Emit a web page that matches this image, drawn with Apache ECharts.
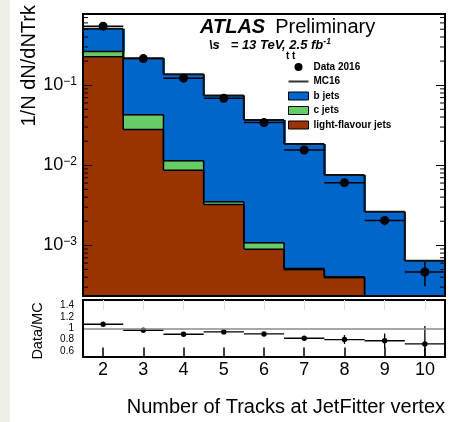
<!DOCTYPE html>
<html><head><meta charset="utf-8">
<script src="https://cdn.jsdelivr.net/npm/echarts@6/dist/echarts.min.js"></script>
<style>html,body{margin:0;padding:0;background:#fff}#c{width:452px;height:422px}</style>
</head><body><div id="c"></div>
<script>
// ---- data ----
const categories = ['2', '3', '4', '5', '6', '7', '8', '9', '10'];
const lightJets = [0.226, 0.0279, 0.00866, 0.00324, 0.000891, 0.000495, 0.000394, 0.00016, 0.00009];
const cJets = [0.037, 0.0150, 0.00276, 0.00027, 0.000187, 0.00002, 0.000012, 0.000004, 0.000002];
const bJets = [0.243, 0.1746, 0.1256, 0.0706, 0.0357, 0.0179, 0.00716, 0.00247, 0.00055];
const data2016 = [0.546, 0.215, 0.1224, 0.0688, 0.0341, 0.0155, 0.00606, 0.00205, 0.000464];
const data2016Err = [0.004, 0.0025, 0.0018, 0.0012, 0.0008, 0.0005, 0.0003, 0.00027, 0.000155];
const ratioVals = [1.071, 0.965, 0.894, 0.935, 0.899, 0.823, 0.80, 0.779, 0.722];
const ratioErr = [0.01, 0.01, 0.01, 0.012, 0.015, 0.025, 0.08, 0.127, 0.32];
const yMinorTicks = [3e-4, 4e-4, 5e-4, 6e-4, 7e-4, 8e-4, 9e-4,
  2e-3, 3e-3, 4e-3, 5e-3, 6e-3, 7e-3, 8e-3, 9e-3,
  2e-2, 3e-2, 4e-2, 5e-2, 6e-2, 7e-2, 8e-2, 9e-2,
  0.2, 0.3, 0.4, 0.5, 0.6, 0.7];
const ratioTickLabels = [0.6, 0.8, 1, 1.2, 1.4];

const Y_MIN = 2.33e-4, Y_MAX = 0.775;
const R_MIN = 0.5, R_MAX = 1.5;
const FONT = '"Liberation Sans", Arial, Helvetica, sans-serif';
const C_B = '#0066cc', C_C = '#66cc66', C_L = '#993300';

// cumulative stacks
const cumL = lightJets.slice();
const cumC = lightJets.map((v, i) => v + cJets[i]);
const cumB = cumC.map((v, i) => v + bJets[i]);

function bandW(api, v) { return api.coord([1, v])[0] - api.coord([0, v])[0]; }

function fillSeries(name, color, lower, upper, outline) {
  return {
    name, type: 'custom', xAxisIndex: 0, yAxisIndex: 0, z: 2,
    itemStyle: { color, borderColor: '#000', borderWidth: 1 },
    data: categories.map((c, i) => [i, lower ? lower[i] : Y_MIN, upper[i]]),
    encode: { x: 0, y: 2 },
    renderItem: function (params, api) {
      const i = api.value(0);
      const lo = Math.max(api.value(1), Y_MIN);
      const hi = Math.max(api.value(2), Y_MIN);
      const pHi = api.coord([i, hi]);
      const pLo = api.coord([i, lo]);
      const w = bandW(api, hi);
      const x0 = pHi[0] - w / 2, x1 = pHi[0] + w / 2;
      const ch = [{ type: 'rect', z2: 0, shape: { x: Math.floor(x0), y: pHi[1], width: Math.ceil(x1) - Math.floor(x0) + 1, height: pLo[1] - pHi[1] + 0.5 }, style: { fill: color } }];
      if (outline) {
        ch.push({ type: 'line', z2: 10, shape: { x1: x0, y1: pHi[1], x2: x1, y2: pHi[1] }, style: { stroke: '#000', lineWidth: 1.5 } });
        if (i < upper.length - 1) {
          const pN = api.coord([i + 1, Math.max(upper[i + 1], Y_MIN)]);
          ch.push({ type: 'line', z2: 10, shape: { x1: x1, y1: pHi[1], x2: x1, y2: pN[1] }, style: { stroke: '#000', lineWidth: 1.5 } });
        }
      }
      return { type: 'group', children: ch };
    }
  };
}

const series = [
  fillSeries('light-flavour jets', C_L, null, cumL, true),
  fillSeries('c jets', C_C, cumL, cumC, true),
  fillSeries('b jets', C_B, cumC, cumB, false),
  {
    name: 'MC16', type: 'custom', xAxisIndex: 0, yAxisIndex: 0, z: 2,
    itemStyle: { color: '#222' },
    data: categories.map((c, i) => [i, cumB[i]]),
    encode: { x: 0, y: 1 },
    renderItem: function (params, api) {
      const i = api.value(0);
      const v = Math.max(api.value(1), Y_MIN);
      const p = api.coord([i, v]);
      const w = bandW(api, v);
      const x0 = p[0] - w / 2, x1 = p[0] + w / 2;
      const ch = [{ type: 'line', z2: 12, shape: { x1: x0, y1: p[1], x2: x1, y2: p[1] }, style: { stroke: '#111', lineWidth: 2 } }];
      if (i < cumB.length - 1) {
        const pN = api.coord([i + 1, Math.max(cumB[i + 1], Y_MIN)]);
        ch.push({ type: 'line', z2: 12, shape: { x1: x1, y1: p[1], x2: x1, y2: pN[1] }, style: { stroke: '#111', lineWidth: 2 } });
      }
      return { type: 'group', children: ch };
    }
  },
  {
    name: 'Data 2016', type: 'custom', xAxisIndex: 0, yAxisIndex: 0, z: 3,
    itemStyle: { color: '#000' },
    data: categories.map((c, i) => [i, data2016[i], data2016Err[i]]),
    encode: { x: 0, y: 1 },
    renderItem: function (params, api) {
      const i = api.value(0), v = api.value(1), e = api.value(2);
      const p = api.coord([i, v]);
      const w = bandW(api, v);
      const pU = api.coord([i, Math.min(v + e, Y_MAX)]);
      const pD = api.coord([i, Math.max(v - e, Y_MIN)]);
      return { type: 'group', children: [
        { type: 'line', shape: { x1: p[0] - w / 2, y1: p[1], x2: p[0] + w / 2, y2: p[1] }, style: { stroke: '#000', lineWidth: 1.5 } },
        { type: 'line', shape: { x1: p[0], y1: pU[1], x2: p[0], y2: pD[1] }, style: { stroke: '#000', lineWidth: 1.5 } },
        { type: 'circle', shape: { cx: p[0], cy: p[1], r: 4.5 }, style: { fill: '#000' } }
      ] };
    }
  },
  {
    name: 'minorTicks', type: 'custom', xAxisIndex: 0, yAxisIndex: 0, z: 4, silent: true,
    data: yMinorTicks.map(v => [0, v]),
    encode: { x: 0, y: 1 },
    renderItem: function (params, api) {
      const v = api.value(1);
      const pl = api.coord([0, v]);
      const w = bandW(api, v);
      const pr = api.coord([categories.length - 1, v]);
      const xl = pl[0] - w / 2, xr = pr[0] + w / 2;
      return { type: 'group', children: [
        { type: 'line', shape: { x1: xl, y1: pl[1], x2: xl + 5, y2: pl[1] }, style: { stroke: '#000', lineWidth: 1 } },
        { type: 'line', shape: { x1: xr - 5, y1: pl[1], x2: xr, y2: pl[1] }, style: { stroke: '#000', lineWidth: 1 } }
      ] };
    }
  },
  {
    name: 'ratio', type: 'custom', xAxisIndex: 2, yAxisIndex: 2, z: 3,
    data: categories.map((c, i) => [i, ratioVals[i], ratioErr[i]]),
    encode: { x: 0, y: 1 },
    markLine: {
      silent: true, symbol: 'none', animation: false,
      label: { show: false },
      lineStyle: { color: '#8a8a8a', width: 1.5, type: 'solid' },
      data: [{ yAxis: 1 }]
    },
    renderItem: function (params, api) {
      const i = api.value(0), v = api.value(1), e = api.value(2);
      const p = api.coord([i, v]);
      const w = api.coord([1, v])[0] - api.coord([0, v])[0];
      const pU = api.coord([i, Math.min(v + e, R_MAX)]);
      const pD = api.coord([i, Math.max(v - e, R_MIN)]);
      return { type: 'group', children: [
        { type: 'line', shape: { x1: p[0] - w / 2, y1: p[1], x2: p[0] + w / 2, y2: p[1] }, style: { stroke: '#000', lineWidth: 1.3 } },
        { type: 'line', shape: { x1: p[0], y1: pU[1], x2: p[0], y2: pD[1] }, style: { stroke: '#000', lineWidth: 1.3 } },
        { type: 'circle', shape: { cx: p[0], cy: p[1], r: 2.7 }, style: { fill: '#000' } }
      ] };
    }
  }
];

const frameLine = { show: true, onZero: false, lineStyle: { color: '#000', width: 2 } };

const option = {
  animation: false,
  backgroundColor: '#fff',
  grid: [
    { left: 83, top: 14, width: 362, height: 282 },
    { left: 83, top: 300, width: 362, height: 56.5 }
  ],
  title: {
    left: 200, top: 17, padding: 0,
    text: '{a|ATLAS}  {b|Preliminary}',
    textStyle: { fontWeight: 'normal', rich: {
      a: { fontFamily: FONT, fontSize: 20, fontWeight: 'bold', fontStyle: 'italic', color: '#000', lineHeight: 20 },
      b: { fontFamily: FONT, fontSize: 20, fontWeight: 'normal', color: '#000', lineHeight: 20 }
    } }
  },
  legend: {
    orient: 'vertical', left: 288, top: 61, padding: 0,
    itemWidth: 20, itemHeight: 8, itemGap: 2.5, selectedMode: false,
    textStyle: { fontFamily: FONT, fontSize: 10, fontWeight: 'bold', color: '#000', lineHeight: 12 },
    data: [
      { name: 'Data 2016', icon: 'circle', itemStyle: { color: '#000', borderWidth: 0 } },
      { name: 'MC16', icon: 'path://M0,0H20V2H0Z', itemStyle: { color: '#333', borderWidth: 0 } },
      { name: 'b jets', icon: 'rect', itemStyle: { color: C_B, borderColor: '#000', borderWidth: 1 } },
      { name: 'c jets', icon: 'rect', itemStyle: { color: C_C, borderColor: '#000', borderWidth: 1 } },
      { name: 'light-flavour jets', icon: 'rect', itemStyle: { color: C_L, borderColor: '#000', borderWidth: 1 } }
    ]
  },
  xAxis: [
    { gridIndex: 0, type: 'category', data: categories, boundaryGap: true, position: 'bottom', z: 6,
      axisLine: frameLine, axisTick: { show: false }, axisLabel: { show: false }, splitLine: { show: false } },
    { gridIndex: 0, type: 'category', data: categories, boundaryGap: true, position: 'top', z: 6,
      axisLine: frameLine, axisTick: { show: false }, axisLabel: { show: false }, splitLine: { show: false } },
    { gridIndex: 1, type: 'category', data: categories, boundaryGap: true, position: 'bottom', z: 6,
      axisLine: frameLine,
      axisTick: { show: true, inside: true, alignWithLabel: true, length: 9, lineStyle: { color: '#000', width: 1.5 } },
      axisLabel: { show: true, margin: 5, fontFamily: FONT, fontSize: 18, color: '#000' }, splitLine: { show: false } },
    { gridIndex: 1, type: 'category', data: categories, boundaryGap: true, position: 'top', z: 6,
      axisLine: frameLine,
      axisTick: { show: true, inside: true, alignWithLabel: true, length: 10, lineStyle: { color: '#e0e0e0', width: 1 } },
      axisLabel: { show: false }, splitLine: { show: false } }
  ],
  yAxis: [
    { gridIndex: 0, type: 'log', logBase: 10, min: Y_MIN, max: Y_MAX, position: 'left', z: 6,
      axisLine: frameLine,
      axisTick: { show: true, inside: true, length: 9, lineStyle: { color: '#000', width: 1 } },
      axisLabel: {
        show: true, margin: 6, showMinLabel: false, showMaxLabel: false, color: '#000',
        fontFamily: FONT, fontSize: 18,
        formatter: function (v) {
          const e = Math.log10(v), r = Math.round(e);
          if (Math.abs(e - r) > 1e-6) return '';
          return '{m|10}{s|' + (r < 0 ? '\u2212' : '') + Math.abs(r) + '}';
        },
        rich: {
          m: { fontFamily: FONT, fontSize: 18, color: '#000' },
          s: { fontFamily: FONT, fontSize: 12, color: '#000', verticalAlign: 'top', padding: [0, 0, 8, 0] }
        }
      },
      splitLine: { show: false } },
    { gridIndex: 0, type: 'log', logBase: 10, min: Y_MIN, max: Y_MAX, position: 'right', z: 6,
      axisLine: frameLine,
      axisTick: { show: true, inside: true, length: 9, lineStyle: { color: '#000', width: 1 } },
      axisLabel: { show: false }, splitLine: { show: false } },
    { gridIndex: 1, type: 'value', min: R_MIN, max: R_MAX, interval: 0.1, position: 'left', z: 6,
      axisLine: frameLine, axisTick: { show: false },
      axisLabel: {
        show: true, margin: 9, showMinLabel: false, showMaxLabel: false, color: '#000',
        fontFamily: FONT, fontSize: 10,
        formatter: function (v) {
          const hit = ratioTickLabels.find(t => Math.abs(t - v) < 1e-6);
          return hit === undefined ? '' : String(hit);
        }
      },
      splitLine: { show: false } },
    { gridIndex: 1, type: 'value', min: R_MIN, max: R_MAX, interval: 0.1, position: 'right', z: 6,
      axisLine: frameLine, axisTick: { show: false }, axisLabel: { show: false }, splitLine: { show: false } }
  ],
  graphic: [
    { type: 'rect', z: -10, silent: true, shape: { x: 0, y: 0, width: 10, height: 422 }, style: { fill: '#efeee9' } },
    { type: 'text', x: 29, y: 5, rotation: Math.PI / 2, silent: true,
      style: { text: '1/N dN/dNTrk', fontFamily: FONT, fontSize: 20, fill: '#000', textAlign: 'right', textVerticalAlign: 'middle' } },
    { type: 'text', x: 38, y: 331, rotation: Math.PI / 2, silent: true,
      style: { text: 'Data/MC', fontFamily: FONT, fontSize: 14.5, fill: '#000', textAlign: 'center', textVerticalAlign: 'middle' } },
    { type: 'text', x: 445, y: 407, silent: true,
      style: { text: 'Number of Tracks at JetFitter vertex', fontFamily: FONT, fontSize: 20, fill: '#000', textAlign: 'right', textVerticalAlign: 'middle' } },
    { type: 'text', x: 209, y: 45, silent: true,
      style: { text: '\\s   = 13 TeV, 2.5 fb{s|-1}', fontFamily: FONT, fontSize: 13, fontWeight: 'bold', fontStyle: 'italic', fill: '#000', textVerticalAlign: 'middle',
        rich: { s: { fontFamily: FONT, fontSize: 8.5, fontWeight: 'bold', fontStyle: 'italic', fill: '#000', verticalAlign: 'top', padding: [0, 0, 6, 0] } } } },
    { type: 'text', x: 286, y: 56, silent: true,
      style: { text: 't t', fontFamily: FONT, fontSize: 10, fontWeight: 'bold', fill: '#000', textVerticalAlign: 'middle' } }
  ],
  series
};

const chart = echarts.init(document.getElementById('c'), null, { renderer: 'canvas' });
chart.setOption(option);
</script>
</body></html>
